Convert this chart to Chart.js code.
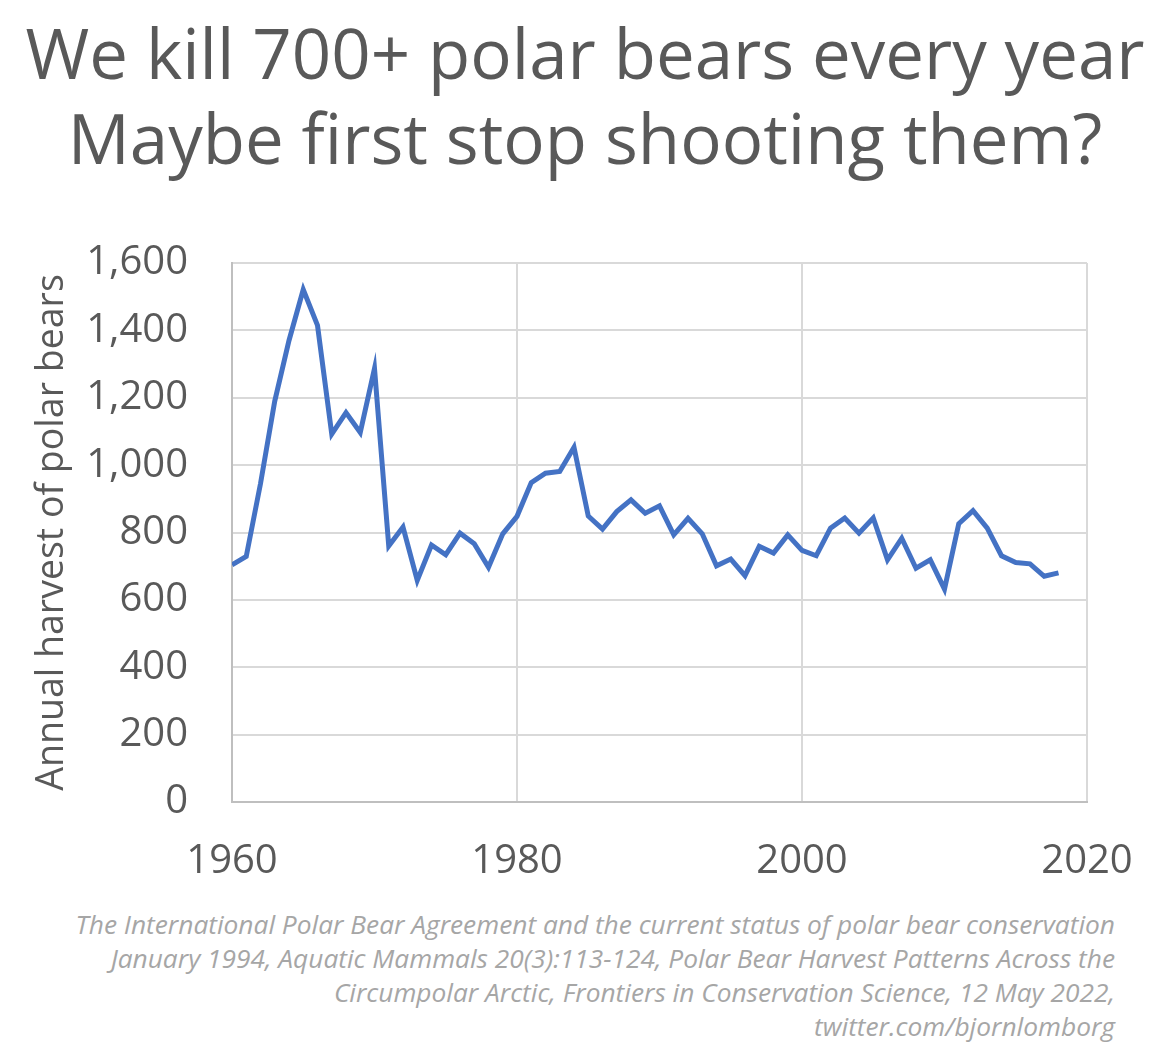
<!DOCTYPE html>
<html>
<head>
<meta charset="utf-8">
<script src="https://cdn.jsdelivr.net/npm/chart.js@4.4.1/dist/chart.umd.min.js"></script>
<style>
  html, body { margin: 0; padding: 0; background: #ffffff; }
  body { width: 1154px; height: 1058px; position: relative; overflow: hidden; font-family: "Open Sans", "Noto Sans", sans-serif; }
  #titulo {
    position: absolute; left: 8px; top: 10px; width: 1154px;
    text-align: center; color: #595959; font-size: 69px; line-height: 85px;
  }
  #grafico { position: absolute; left: 0; top: 200px; width: 1154px; height: 700px; }
  #fuente {
    position: absolute; right: 39px; top: 907px; text-align: right;
    color: #a6a6a6; font-style: italic; font-size: 26.3px; line-height: 34px;
  }
</style>
</head>
<body>
<div id="titulo">We kill 700+ polar bears every year<br>Maybe first stop shooting them?</div>
<div id="grafico"><canvas id="lienzo"></canvas></div>
<div id="fuente">The International Polar Bear Agreement and the current status of polar bear conservation<br>January 1994, Aquatic Mammals 20(3):113-124, Polar Bear Harvest Patterns Across the<br>Circumpolar Arctic, Frontiers in Conservation Science, 12 May 2022,<br>twitter.com/bjornlomborg</div>
<script>
// Datos (osos polares cazados por año)
const anios = [
  1960, 1961, 1962, 1963, 1964, 1965, 1966, 1967, 1968, 1969,
  1970, 1971, 1972, 1973, 1974, 1975, 1976, 1977, 1978, 1979,
  1980, 1981, 1982, 1983, 1984, 1985, 1986, 1987, 1988, 1989,
  1990, 1991, 1992, 1993, 1994, 1995, 1996, 1997, 1998, 1999,
  2000, 2001, 2002, 2003, 2004, 2005, 2006, 2007, 2008, 2009,
  2010, 2011, 2012, 2013, 2014, 2015, 2016, 2017, 2018
];
const cazados = [
  704, 729, 945, 1190, 1370, 1521, 1415, 1092, 1156, 1097,
  1287, 760, 816, 658, 763, 734, 798, 767, 697, 796,
  848, 948, 976, 981, 1053, 849, 810, 862, 897, 857,
  879, 793, 842, 796, 701, 721, 672, 759, 739, 793,
  747, 731, 813, 843, 798, 843, 719, 783, 694, 719,
  632, 826, 865, 813, 731, 711, 707, 670, 680
];
const ticksX = [1960, 1980, 2000, 2020];
const ticksY = [0, 200, 400, 600, 800, 1000, 1200, 1400, 1600];

let puntos = [];
for (let i = 0; i < anios.length; i++) {
  puntos.push({ x: anios[i], y: cazados[i] });
}

const gris = '#595959';
const fuenteEjes = { family: '"Open Sans", "Noto Sans", sans-serif', size: 40 };

// Quitamos el relleno automatico de las etiquetas para que el area quede donde queremos
function sinRelleno(scale) {
  scale.paddingTop = 0;
  scale.paddingBottom = 0;
  scale.paddingLeft = 0;
  scale.paddingRight = 0;
}

let ctx = document.getElementById('lienzo').getContext('2d');
new Chart(ctx, {
  type: 'line',
  data: {
    datasets: [{
      label: 'Annual harvest of polar bears',
      data: puntos,
      borderColor: '#4472C4',
      borderWidth: 5,
      pointRadius: 0,
      tension: 0,
      fill: false
    }]
  },
  options: {
    responsive: true,
    maintainAspectRatio: false,
    animation: false,
    layout: { padding: { left: 30, right: 67, top: 63, bottom: 0 } },
    plugins: {
      legend: { display: false },
      tooltip: { enabled: false }
    },
    scales: {
      x: {
        type: 'linear',
        min: ticksX[0],
        max: ticksX[ticksX.length - 1],
        afterBuildTicks: function(scale) {
          scale.ticks = ticksX.map(function(v) { return { value: v }; });
        },
        afterFit: function(scale) {
          scale.height = 98;
          sinRelleno(scale);
        },
        grid: { color: '#d9d9d9', lineWidth: 2, drawTicks: false },
        border: { color: '#bfbfbf', width: 2 },
        ticks: {
          color: gris,
          font: fuenteEjes,
          padding: 36,
          maxRotation: 0,
          callback: function(v) { return String(v); }
        }
      },
      y: {
        min: ticksY[0],
        max: ticksY[ticksY.length - 1],
        afterBuildTicks: function(scale) {
          scale.ticks = ticksY.map(function(v) { return { value: v }; });
        },
        afterFit: function(scale) {
          scale.width = 202;
          sinRelleno(scale);
        },
        grid: { color: '#d9d9d9', lineWidth: 2, drawTicks: false },
        border: { color: '#bfbfbf', width: 2 },
        ticks: {
          color: gris,
          font: fuenteEjes,
          padding: 44,
          callback: function(v) { return v.toLocaleString('en-US'); }
        },
        title: {
          display: true,
          text: 'Annual harvest of polar bears',
          color: gris,
          font: { family: '"Open Sans", "Noto Sans", sans-serif', size: 37.5 },
          padding: { top: 0, bottom: 8 }
        }
      }
    }
  }
});
</script>
</body>
</html>
